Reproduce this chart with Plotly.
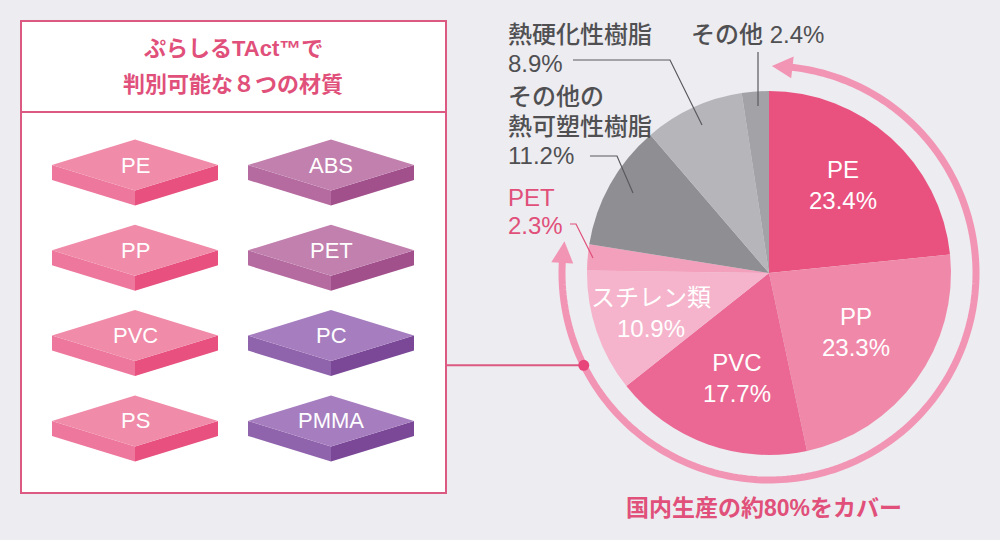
import numpy as np
import plotly.graph_objects as go

W, H = 1000, 540

# ---------------- data ----------------
categories = ["PE", "PP", "PVC", "スチレン類", "PET", "その他の熱可塑性樹脂", "熱硬化性樹脂", "その他"]
shares = [23.4, 23.3, 17.7, 10.9, 2.3, 11.2, 8.9, 2.4]
slice_colors = ["#E9517F", "#F088A9", "#EB6894", "#F5B4CB", "#F3A0BC", "#8F8E92", "#B6B5B9", "#A3A2A6"]
materials = ["PE", "ABS", "PP", "PET", "PVC", "PC", "PS", "PMMA"]
material_groups = ["pink", "mauve", "pink", "mauve", "pink", "purple", "pink", "purple"]
title_lines = ["ぷらしるTAct™で", "判別可能な８つの材質"]
coverage_text = "国内生産の約80%をカバー"

# ---------------- style ----------------
BG = "#EDECF0"
PINK = "#E0507A"
GREY_TXT = "#505053"
FONT = "Liberation Sans, Noto Sans CJK JP, sans-serif"
group_colors = {
    "pink": ("#F08BA9", "#EE779D", "#E8507F"),
    "mauve": ("#C280AF", "#B56BA0", "#A2508C"),
    "purple": ("#A67EBF", "#9064AC", "#7B4898"),
}


def px(x):
    return x / W


def py(y):
    return 1 - y / H


def path_of(points, close=True):
    s = "M " + " L ".join(f"{px(x):.5f},{py(y):.5f}" for x, y in points)
    return s + (" Z" if close else "")


fig = go.Figure()
shapes = []
annotations = []

# ---------------- left panel ----------------
shapes.append(dict(type="rect", xref="paper", yref="paper", x0=px(21), x1=px(446), y0=py(21), y1=py(493),
                   fillcolor="#FFFFFF", line=dict(color="#DC5A82", width=2), layer="below"))
shapes.append(dict(type="line", xref="paper", yref="paper", x0=px(21), x1=px(446), y0=py(112), y1=py(112),
                   line=dict(color="#DC5A82", width=2)))
for i, t in enumerate(title_lines):
    annotations.append(dict(text=t, x=px(233), y=py(48 + i * 36), xref="paper", yref="paper",
                            xanchor="center", yanchor="middle", showarrow=False,
                            font=dict(family=FONT, size=22, color=PINK, weight="bold")))

# tiles
hw, hh, th = 83, 25.5, 15
for i, (m, g) in enumerate(zip(materials, material_groups)):
    tcx = 135 if i % 2 == 0 else 331
    tcy = 165 + (i // 2) * 85.3
    top_c, left_c, right_c = group_colors[g]
    left = [(tcx - hw, tcy), (tcx, tcy + hh), (tcx, tcy + hh + th), (tcx - hw, tcy + th)]
    right = [(tcx, tcy + hh), (tcx + hw, tcy), (tcx + hw, tcy + th), (tcx, tcy + hh + th)]
    top = [(tcx, tcy - hh), (tcx + hw, tcy), (tcx, tcy + hh), (tcx - hw, tcy)]
    for pts, col in ((left, left_c), (right, right_c), (top, top_c)):
        shapes.append(dict(type="path", xref="paper", yref="paper", path=path_of(pts),
                           fillcolor=col, line=dict(width=0)))
    annotations.append(dict(text=m, x=px(tcx), y=py(tcy), xref="paper", yref="paper",
                            xanchor="center", yanchor="middle", showarrow=False,
                            font=dict(family=FONT, size=22, color="#FFFFFF")))

# ---------------- pie ----------------
cx, cy, R = 769, 273, 182
fig.add_trace(go.Pie(
    labels=categories, values=shares, sort=False, direction="clockwise", rotation=0,
    marker=dict(colors=slice_colors, line=dict(width=0)), textinfo="none",
    hoverinfo="label+value", showlegend=False,
    domain=dict(x=[px(cx - R), px(cx + R)], y=[py(cy + R), py(cy - R)]),
))

# inside labels
inside_pos = {"PE": (843, 185), "PP": (856, 332), "PVC": (737, 378), "スチレン類": (651, 313)}
for name, val in zip(categories, shares):
    if name in inside_pos:
        x, y = inside_pos[name]
        annotations.append(dict(text=f"{name}<br>{val}%", x=px(x), y=py(y), xref="paper", yref="paper",
                                xanchor="center", yanchor="middle", showarrow=False,
                                font=dict(family=FONT, size=24, color="#FFFFFF")))

# outside labels
outside = [
    ([f"{categories[7]} {shares[7]}%"], 689, [35], GREY_TXT),
    ([categories[6], f"{shares[6]}%"], 506, [35, 63], GREY_TXT),
    ([categories[5][:4], categories[5][4:], f"{shares[5]}%"], 506, [97, 126, 156], GREY_TXT),
    ([categories[4], f"{shares[4]}%"], 506, [197, 225], PINK),
]
for lines, x, ys, col in outside:
    for ln, y in zip(lines, ys):
        annotations.append(dict(text=ln, x=px(x), y=py(y), xref="paper", yref="paper",
                                xanchor="left", yanchor="middle", showarrow=False,
                                font=dict(family=FONT, size=24, color=col, weight=500)))

# leader lines
leaders = [
    ([(758, 52), (758, 106)], "#5A595D"),
    ([(573, 60), (670, 60), (702, 125)], "#5A595D"),
    ([(590, 156), (617, 156), (633, 193)], "#5A595D"),
    ([(570, 224), (576, 224), (593, 258)], PINK),
]
for pts, col in leaders:
    shapes.append(dict(type="path", xref="paper", yref="paper", path=path_of(pts, close=False),
                       line=dict(color=col, width=1.2), fillcolor="rgba(0,0,0,0)"))

# ---------------- coverage ring ----------------
RR = 207
RING = "#F295B5"


def ring_pt(theta_deg, r=RR):
    t = np.radians(theta_deg)
    return (cx + r * np.sin(t), cy - r * np.cos(t))


thetas = np.linspace(5.5, 273.5, 200)
shapes.append(dict(type="path", xref="paper", yref="paper",
                   path=path_of([ring_pt(t) for t in thetas], close=False),
                   line=dict(color=RING, width=7), fillcolor="rgba(0,0,0,0)"))
# arrow heads
for tip, base in ((0.8, 6.5), (278.8, 272.8)):
    pts = [ring_pt(tip), ring_pt(base, RR + 11), ring_pt(base, RR - 11)]
    shapes.append(dict(type="path", xref="paper", yref="paper", path=path_of(pts),
                       fillcolor=RING, line=dict(width=0)))

# connector
dot = ring_pt(243.5)
shapes.append(dict(type="line", xref="paper", yref="paper", x0=px(446), x1=px(dot[0]), y0=py(dot[1]), y1=py(dot[1]),
                   line=dict(color="#DC5A82", width=2)))
shapes.append(dict(type="circle", xref="paper", yref="paper", x0=px(dot[0] - 5.5), x1=px(dot[0] + 5.5),
                   y0=py(dot[1] - 5.5), y1=py(dot[1] + 5.5), fillcolor="#E8457A", line=dict(width=0)))

annotations.append(dict(text=coverage_text, x=px(764), y=py(508), xref="paper", yref="paper",
                        xanchor="center", yanchor="middle", showarrow=False,
                        font=dict(family=FONT, size=23, color=PINK, weight="bold")))

fig.update_layout(
    width=W, height=H, autosize=False,
    margin=dict(l=0, r=0, t=0, b=0),
    paper_bgcolor=BG, plot_bgcolor=BG,
    shapes=shapes, annotations=annotations,
    showlegend=False,
)

fig.write_html("out.html")
